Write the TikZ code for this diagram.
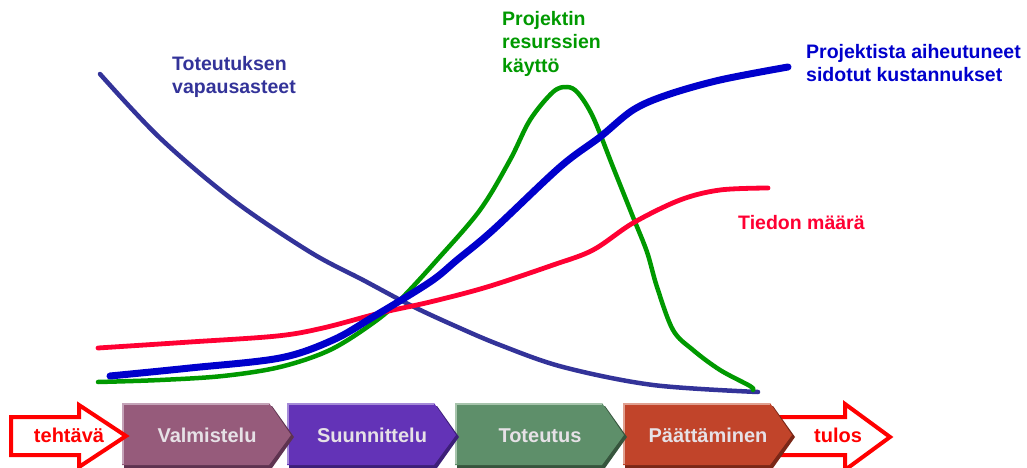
\documentclass[tikz,border=0pt]{standalone}
\usepackage{fontspec}
\setmainfont{Liberation Sans}
\definecolor{navyline}{HTML}{333399}
\definecolor{greenline}{HTML}{009900}
\definecolor{blueline}{HTML}{0000CC}
\definecolor{redline}{HTML}{FF0033}
\definecolor{arrowred}{HTML}{FF0000}
\definecolor{phasetxt}{HTML}{E6E1E6}
\definecolor{valm}{HTML}{965B7B}
\definecolor{valmdark}{HTML}{5E3350}
\definecolor{valmlight}{HTML}{C4A3B8}
\definecolor{suun}{HTML}{6333B7}
\definecolor{suundark}{HTML}{3D1F78}
\definecolor{suunlight}{HTML}{A58BD8}
\definecolor{tote}{HTML}{5E8F6A}
\definecolor{totedark}{HTML}{36553D}
\definecolor{totelight}{HTML}{A7C4AC}
\definecolor{paat}{HTML}{C1442A}
\definecolor{paatdark}{HTML}{7A2717}
\definecolor{paatlight}{HTML}{E0A090}

% one phase chevron: #1 left x, #2 node name, #3 colour, #4 label
\newcommand{\phasechevron}[4]{%
  \fill[#3dark] (#1+2,406) -- (#1+150,406) -- (#1+172,437) -- (#1+150,468) -- (#1+2,468) -- cycle;
  \fill[#3] (#1,403) -- (#1+147,403) -- (#1+169,435) -- (#1+147,465) -- (#1,465) -- cycle;
  \draw[#3light, line width=1.6] (#1+0.8,464) -- (#1+0.8,403.8) -- (#1+146.5,403.8);
  \node[phaselabel] (#2) at (#1+85,442) {#4};
}

\begin{document}
\begin{tikzpicture}[x=1pt,y=-1pt,
  labelfont/.style={font=\fontsize{19.5}{23.5}\selectfont\bfseries},
  curvelabel/.style={labelfont, inner sep=0pt, align=left},
  phaselabel/.style={font=\fontsize{20}{24}\selectfont\bfseries, text=phasetxt, anchor=base, inner sep=0pt},
  arrowlabel/.style={font=\fontsize{20}{24}\selectfont\bfseries, text=arrowred, anchor=base, inner sep=0pt},
  bigarrow/.style={draw=arrowred, fill=white, line width=4pt, line join=miter},
  curve/.style={line cap=round, line join=round}]
\useasboundingbox (0,0) rectangle (1027,468);

% curves
\draw[curve, navyline, line width=4.5pt] plot[smooth, tension=0.55] coordinates {
  (100,74) (160,138) (233,200) (310,252) (363,280) (410,305) (453,325)
  (500,345) (563,367) (653,385) (758,392)};
\draw[curve, greenline, line width=4.5pt] plot[smooth, tension=0.55] coordinates {
  (98,382) (160,380) (223,376) (280,367) (330,350) (373,323) (400,300)
  (437,260) (480,210) (510,160) (530,120) (553,92) (567,87) (578,93)
  (593,117) (613,167) (633,217) (647,252) (657,287) (673,330) (693,350)
  (720,370) (750,386) (753,390)};
\draw[curve, redline, line width=4.8pt] plot[smooth, tension=0.55] coordinates {
  (98,348) (190,342) (277,336) (323,328) (380,313) (430,302) (487,287)
  (553,265) (593,250) (633,223) (680,200) (720,190) (768,188)};
\draw[curve, blueline, line width=7pt] plot[smooth, tension=0.55] coordinates {
  (110,376) (190,368) (280,358) (333,340) (373,317) (430,282) (457,260)
  (493,230) (560,167) (600,137) (633,110) (667,95) (720,80) (788,67)};

% curve labels
\node[curvelabel, text=navyline, anchor=north west] (freedom) at (172,56)
  {Toteutuksen\\vapausasteet};
\node[curvelabel, text=greenline, anchor=north west] (resources) at (502,11)
  {Projektin\\resurssien\\käyttö};
\node[curvelabel, text=blueline, anchor=north west] (costs) at (806,44)
  {Projektista aiheutuneet\\sidotut kustannukset};
\node[curvelabel, text=redline, anchor=base west] (knowledge) at (738,229)
  {Tiedon määrä};

% output arrow (behind the last phase)
\draw[bigarrow] (770,417) -- (845,417) -- (845,404) -- (890,437)
  -- (845,470) -- (845,455) -- (770,455) -- cycle;

% phases, right to left so each tip overlaps the next phase
\phasechevron{623}{closing}{paat}{Päättäminen}
\phasechevron{455}{execution}{tote}{Toteutus}
\phasechevron{287}{planning}{suun}{Suunnittelu}
\phasechevron{122}{preparation}{valm}{Valmistelu}

% input arrow
\draw[bigarrow] (11,417) -- (79,417) -- (79,405) -- (126,436)
  -- (79,467) -- (79,455) -- (11,455) -- cycle;

\node[arrowlabel] (task) at (69,442) {tehtävä};
\node[arrowlabel] (result) at (838,442) {tulos};
\end{tikzpicture}
\end{document}
